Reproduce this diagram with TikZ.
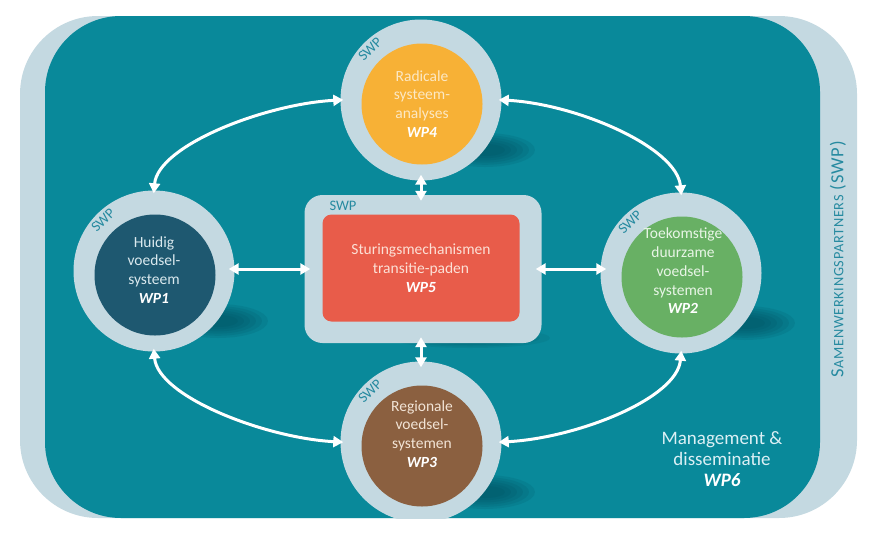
\documentclass[tikz,border=0pt]{standalone}
\usepackage{fontspec}
\setmainfont{Carlito}
\newfontfamily\trackfont{Carlito}[LetterSpace=5]
\usetikzlibrary{arrows.meta}

\definecolor{bgteal}{RGB}{9,137,154}
\definecolor{swplight}{RGB}{196,217,225}
\definecolor{swpblue}{RGB}{38,138,160}
\definecolor{shadecol}{RGB}{0,70,84}
\definecolor{wp1col}{RGB}{30,88,112}
\definecolor{wp2col}{RGB}{104,176,100}
\definecolor{wp3col}{RGB}{139,96,64}
\definecolor{wp4col}{RGB}{247,177,54}
\definecolor{wp5col}{RGB}{232,92,74}
\definecolor{wp1txt}{RGB}{218,233,238}
\definecolor{wp2txt}{RGB}{232,245,230}
\definecolor{wp3txt}{RGB}{242,228,214}
\definecolor{wp4txt}{RGB}{252,232,196}
\definecolor{wp5txt}{RGB}{252,224,214}
\definecolor{wp6txt}{RGB}{220,240,245}

\begin{document}
\begin{tikzpicture} [
                x=1pt, y=-1pt,
                ring/.style={circle,fill=swplight,minimum size=161pt,inner sep=0pt},
                wp/.style={circle,minimum size=121pt,inner sep=0pt,xshift=1pt,yshift=-4pt},
                wptext/.style={align=center,font=\fontsize{15.5}{18.8}\selectfont},
                swp/.style={text=swpblue,font=\fontsize{14.5}{15}\selectfont,inner sep=0pt},
                link/.style={draw=white,line width=3pt,
                    {Triangle[length=10pt,width=11pt]}-{Triangle[length=10pt,width=11pt]},
                    shorten <=-6pt,shorten >=-6pt},
            ]
            \useasboundingbox (0,0) rectangle (880,536);
            \begin{scope}
            \clip (0,0) rectangle (880,518);
            % background
            \fill[swplight,rounded corners=78pt] (20,16) rectangle (857,518);
            \fill[bgteal,rounded corners=76pt] (45,16) rectangle (820,518);
            % shadows
            \foreach \pos in {(154,271),(681,273),(421,442),(421,100)}
                \foreach \k in {0,...,5}
                    \fill[shadecol,opacity=0.12] \pos ++(64,50) ellipse ({50-6*\k} and {17-2.2*\k});
            \foreach \k in {0,...,4}
                \fill[shadecol,opacity=0.1] (470,338) ellipse ({80-10*\k} and {10-1.5*\k});
            % centre box
            \node[fill=swplight,rounded corners=18pt,minimum width=237pt,minimum height=148pt] (frame) at (423,269) {};
            \node[fill=wp5col,rounded corners=9pt,minimum width=197pt,minimum height=107pt,
                wptext,text=wp5txt] (wp5) at (421,268)
                {Sturingsmechanismen\\transitie-paden\\\textcolor{white}{\textbf{\textit{WP5}}}};
            \node[swp] (swp5) at (343,206) {SWP};
            % work packages
            \foreach \pos/\name in {
                    {(154,271)/1}, {(681,273)/2}, {(421,442)/3}, {(421,100)/4}} {
                \node[ring] (ring\name) at \pos {};
                \node[wp,fill=wp\name col] (wp\name) at \pos {};
                \path \pos ++(-51,-51) node[swp,rotate=45] (swp\name) {SWP};
            }
            \node[wptext,text=wp1txt] (txt1) at (154,270)
                {Huidig\\voedsel-\\systeem\\\textcolor{white}{\textbf{\textit{WP1}}}};
            \node[wptext,text=wp2txt] (txt2) at (683,271)
                {Toekomstige\\duurzame\\voedsel-\\systemen\\\textcolor{white}{\textbf{\textit{WP2}}}};
            \node[wptext,text=wp3txt] (txt3) at (422,434)
                {Regionale\\voedsel-\\systemen\\\textcolor{white}{\textbf{\textit{WP3}}}};
            \node[wptext,text=wp4txt] (txt4) at (422,104)
                {Radicale\\systeem-\\analyses\\\textcolor{white}{\textbf{\textit{WP4}}}};
            % arrows
            \path[link] (ring1.east |- frame.west) -- (frame.west);
            \path[link] (frame.east) -- (ring2.west |- frame.east);
            \path[link] (ring4.south) -- (ring4.south |- frame.north);
            \path[link] (frame.south -| ring3.north) -- (ring3.north);
            \path[link,shorten <=-3pt,shorten >=-3pt] (ring4.west) .. controls +(-75,4) and +(4,-45) .. (ring1.north);
            \path[link,shorten <=-3pt,shorten >=-3pt] (ring4.east) .. controls +(75,4) and +(-4,-45) .. (ring2.north);
            \path[link,shorten <=-3pt,shorten >=-3pt] (ring1.south) .. controls +(4,45) and +(-75,-4) .. (ring3.west);
            \path[link,shorten <=-3pt,shorten >=-3pt] (ring2.south) .. controls +(-4,45) and +(75,-4) .. (ring3.east);
            \end{scope}
            % labels
            \node[text=wp6txt,align=center,font=\fontsize{19}{21}\selectfont] (wp6) at (722,459)
                {Management \&\\disseminatie\\\textcolor{white}{\textbf{\textit{WP6}}}};
            \node[text=swpblue,rotate=90] (partners) at (838,259)
                {\trackfont\fontsize{18.5}{19}\selectfont S\fontsize{14.3}{15}\selectfont AMENWERKINGSPARTNERS\fontsize{18.5}{19}\selectfont{} (SWP)};
        \end{tikzpicture}
\end{document}
